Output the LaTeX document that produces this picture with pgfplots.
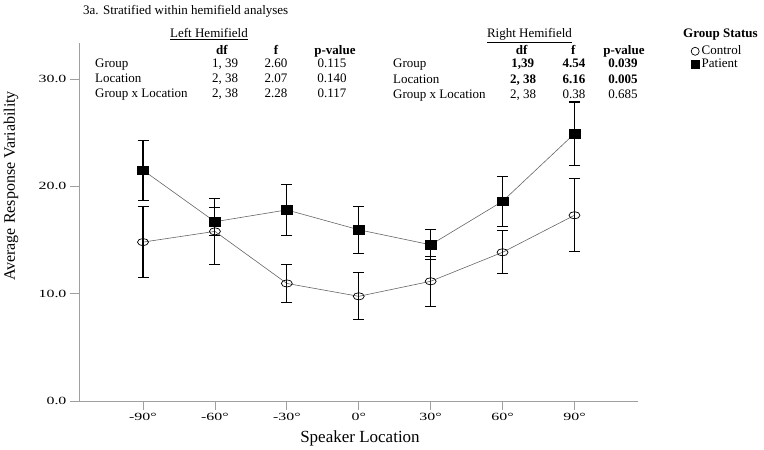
\documentclass[border=0pt]{standalone}
\usepackage{fontspec}
\setmainfont{Liberation Serif}
\newfontfamily\tickfont{Liberation Serif}[FakeStretch=1.45]
\usepackage{pgfplots}
\pgfplotsset{compat=1.18}
\newcommand{\T}[4][center]{\node[anchor=#1, inner sep=0pt, text height=1.5ex, text depth=.3ex, font=\fontsize{13}{14}\selectfont] at (#2pt,450pt-#3pt) {#4};}
\begin{document}
\begin{tikzpicture}
\useasboundingbox (0,0) rectangle (764pt,450pt);
\begin{axis}[at={(79pt,49pt)}, anchor=south west, scale only axis,
  width=559pt, height=357.5pt,
  xmin=-116.7, xmax=116.5, ymin=0, ymax=33.3,
  axis x line*=bottom, axis y line*=left,
  axis line style={-, gray!75, line width=0.8pt},
  xtick={-90,-60,-30,0,30,60,90},
  xticklabels={-90°,-60°,-30°,0°,30°,60°,90°},
  ytick={0,10,20,30},
  yticklabels={0.0,10.0,20.0,30.0},
  tick align=outside, major tick length=9pt,
  tick style={gray!75, line width=0.8pt},
  ticklabel style={font=\tickfont\fontsize{11}{11}\selectfont},
  /pgf/number format/assume math mode=true,
  clip=false,
  error bars/y dir=both, error bars/y explicit,
  error bars/error bar style={black, line width=1.1pt},
  error bars/error mark options={rotate=90, black, mark size=5.5pt, line width=1.1pt},
  legend style={at={(1.0894,1.0)}, anchor=north west, draw=none, fill=none,
    font=\fontsize{13}{14}\selectfont, nodes={inner xsep=2.5pt, inner ysep=1pt,
    text height=1.6ex, text depth=.4ex}, row sep=2pt},
  legend cell align=left,
]
\addlegendimage{only marks, mark=o, black, mark size=4pt, mark options={line width=0.7pt}}
\addlegendentry{Control}
\addlegendimage{only marks, mark=square*, black, mark size=4pt}
\addlegendentry{Patient}
% Control
\addplot[black!60, line width=0.6pt, mark=o, mark size=5.5pt,
  mark options={solid, black, line width=0.7pt, yscale=0.65}]
  table[x=x, y=y, y error=e] {
x y e
-90 14.8 3.3
-60 15.8 3.1
-30 10.95 1.75
0 9.75 2.2
30 11.15 2.35
60 13.85 2.0
90 17.3 3.4
};
% Patient
\addplot[black!60, line width=0.6pt, mark=square*, mark size=5.5pt,
  mark options={solid, black, fill=black, yscale=0.75}]
  table[x=x, y=y, y error=e] {
x y e
-90 21.5 2.8
-60 16.7 1.3
-30 17.8 2.35
0 15.95 2.2
30 14.55 1.4
60 18.6 2.35
90 24.9 2.95
};
\end{axis}
% axis labels
\node[rotate=90, font=\fontsize{16}{16}\selectfont] at (11pt,450pt-186pt) {Average Response Variability};
\node[font=\fontsize{17}{17}\selectfont] at (360pt,450pt-438pt) {Speaker Location};
% title
\T[west]{83}{11.5}{3a. Stratified within hemifield analyses}
% Left hemifield table
\T{209}{34.5}{\underline{Left Hemifield}}
\T{222}{51.5}{\textbf{df}}
\T{276}{51.5}{\textbf{f}}
\T{335}{51.5}{\textbf{p-value}}
\T[west]{95}{65}{Group}
\T[west]{95}{80}{Location}
\T[west]{95}{95}{Group x Location}
\T{225}{65}{1, 39}
\T{225}{80}{2, 38}
\T{225}{95}{2, 38}
\T{276}{65}{2.60}
\T{276}{80}{2.07}
\T{276}{95}{2.28}
\T{332}{65}{0.115}
\T{332}{80}{0.140}
\T{332}{95}{0.117}
% Right hemifield table
\T{529.5}{35}{\underline{Right Hemifield}}
\T{521.7}{51.5}{\textbf{df}}
\T{573.3}{51.5}{\textbf{f}}
\T{624}{51.5}{\textbf{p-value}}
\T[west]{393}{65}{Group}
\T[west]{393}{80.5}{Location}
\T[west]{393}{96}{Group x Location}
\T{522.7}{65}{\textbf{1,39}}
\T{523}{80.5}{\textbf{2, 38}}
\T{523}{96}{2, 38}
\T{574}{65}{\textbf{4.54}}
\T{574}{80.5}{\textbf{6.16}}
\T{574}{96}{0.38}
\T{623}{65}{\textbf{0.039}}
\T{623}{80.5}{\textbf{0.005}}
\T{623}{96}{0.685}
% legend title
\T{720.5}{35}{\textbf{Group Status}}
\end{tikzpicture}
\end{document}
